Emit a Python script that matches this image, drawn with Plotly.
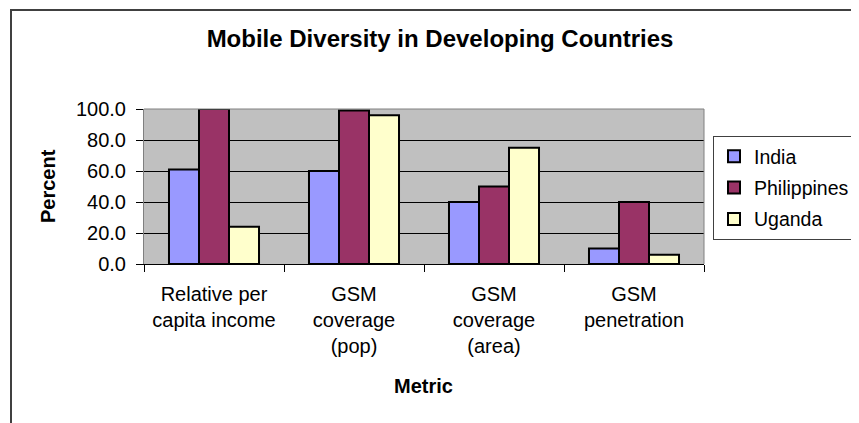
import plotly.graph_objects as go

categories = ["Relative per<br>capita income", "GSM<br>coverage<br>(pop)", "GSM<br>coverage<br>(area)", "GSM<br>penetration"]
india = [61, 60, 40, 10]
philippines = [100, 99, 50, 40]
uganda = [24, 96, 75, 6]
series_names = ["India", "Philippines", "Uganda"]
series_colors = ["#9999FF", "#993366", "#FFFFCC"]
y_ticks = [0, 20, 40, 60, 80, 100]

FONT = "Arial, 'Liberation Sans', sans-serif"
OFF = 8  # page body margin
W, H = 859 - OFF, 423 - OFF
L, T = 144 - OFF, 109 - OFF
PW, PH = 560, 155

fig = go.Figure()
for name, vals, col in zip(series_names, [india, philippines, uganda], series_colors):
    fig.add_trace(go.Bar(
        x=categories, y=vals, name=name, legendgroup=name,
        marker=dict(color=col, line=dict(color="black", width=2)),
    ))

fig.update_layout(
    width=W, height=H, autosize=False,
    margin=dict(l=L, r=W - L - PW, t=T, b=H - T - PH, autoexpand=False),
    paper_bgcolor="white", plot_bgcolor="#C0C0C0",
    barmode="group", bargap=0.357, bargroupgap=0,
    font=dict(family=FONT, color="black", size=20),
    title=dict(text="<b>Mobile Diversity in Developing Countries</b>",
               x=(440 - OFF) / W, xref="container", xanchor="center",
               y=1 - (39 - OFF) / H, yref="container", yanchor="middle",
               font=dict(size=24, family=FONT, color="black")),
    legend=dict(x=(713 - 144) / PW, y=(264 - 136) / PH, xanchor="left", yanchor="top",
                bordercolor="#404040", borderwidth=1, bgcolor="white",
                font=dict(size=19.5, family=FONT), tracegroupgap=3),
    showlegend=True,
)
fig.update_xaxes(
    showline=True, linecolor="black", linewidth=1,
    ticks="outside", tickson="boundaries", ticklen=7, tickcolor="black",
    tickfont=dict(size=20), showgrid=False, ticklabelstandoff=12,
)
fig.update_yaxes(
    range=[0, 100], tickvals=y_ticks, tickformat=".1f",
    showline=True, linecolor="#808080", linewidth=1,
    ticks="outside", ticklen=7, tickcolor="black",
    showgrid=True, gridcolor="black", gridwidth=1, zeroline=False,
    tickfont=dict(size=20), ticklabelstandoff=6,
)
fig.add_shape(type="line", xref="paper", yref="paper", x0=0, x1=1, y0=1, y1=1,
              line=dict(color="#808080", width=1), layer="above")
fig.add_shape(type="line", xref="paper", yref="paper", x0=1, x1=1, y0=0, y1=1,
              line=dict(color="#808080", width=1), layer="above")
fig.add_shape(type="rect", xref="paper", yref="paper",
              x0=(11 - 144) / PW, x1=1.5, y0=-1.5, y1=(264 - 10) / PH,
              line=dict(color="#404040", width=2), layer="below")
fig.add_annotation(text="<b>Percent</b>", xref="paper", yref="paper",
                   x=(48 - 144) / PW, y=(264 - 186) / PH, textangle=-90, showarrow=False,
                   xanchor="center", yanchor="middle", font=dict(size=20))
fig.add_annotation(text="<b>Metric</b>", xref="paper", yref="paper",
                   x=(423 - 144) / PW, y=(264 - 386) / PH, showarrow=False,
                   xanchor="center", yanchor="middle", font=dict(size=20))

fig.write_html("out.html")
